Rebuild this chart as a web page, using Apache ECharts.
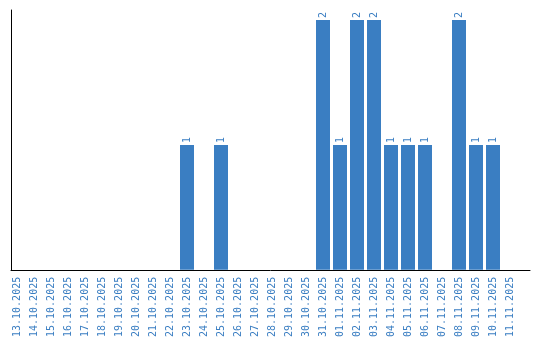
<!DOCTYPE html>
<html><head><meta charset="utf-8">
<script src="https://cdn.jsdelivr.net/npm/echarts@6/dist/echarts.min.js"></script>
<style>html,body{margin:0;padding:0;background:#fff}#c{width:540px;height:340px}</style>
</head><body><div id="c"></div>
<script>
const categories = ["13.10.2025","14.10.2025","15.10.2025","16.10.2025","17.10.2025","18.10.2025","19.10.2025","20.10.2025","21.10.2025","22.10.2025","23.10.2025","24.10.2025","25.10.2025","26.10.2025","27.10.2025","28.10.2025","29.10.2025","30.10.2025","31.10.2025","01.11.2025","02.11.2025","03.11.2025","04.11.2025","05.11.2025","06.11.2025","07.11.2025","08.11.2025","09.11.2025","10.11.2025","11.11.2025"];
const values = [0,0,0,0,0,0,0,0,0,0,1,0,1,0,0,0,0,0,2,1,2,2,1,1,1,0,2,1,1,0];
const color = '#3a7ec2';
const font = 'DejaVu Sans Mono';
const chart = echarts.init(document.getElementById('c'));
chart.setOption({
  animation: false,
  grid: [
    {left: 8.5, width: 510, top: 20, bottom: 70},
    {left: 11, right: 10, top: 10, bottom: 70}
  ],
  xAxis: [
    {type: 'category', data: categories, gridIndex: 0,
     axisLine: {show: false}, axisTick: {show: false},
     axisLabel: {rotate: 90, color: color, fontFamily: font, fontSize: 10, margin: 7, interval: 0}},
    {type: 'value', gridIndex: 1, min: 0, max: 1,
     axisLine: {show: true, lineStyle: {color: '#000', width: 1}},
     axisTick: {show: false}, axisLabel: {show: false}, splitLine: {show: false}}
  ],
  yAxis: [
    {type: 'value', gridIndex: 0, min: 0, max: 2,
     axisLine: {show: false}, axisTick: {show: false}, axisLabel: {show: false}, splitLine: {show: false}},
    {type: 'value', gridIndex: 1, min: 0, max: 1,
     axisLine: {show: true, lineStyle: {color: '#000', width: 1}},
     axisTick: {show: false}, axisLabel: {show: false}, splitLine: {show: false}}
  ],
  series: [{
    type: 'bar', data: values.map(v => v === 0 ? null : v), barWidth: 14,
    itemStyle: {color: color},
    label: {show: true, position: 'top', rotate: 90, align: 'left', verticalAlign: 'middle',
      distance: 2, color: color, fontFamily: font, fontSize: 10}
  }]
});
</script></body></html>
